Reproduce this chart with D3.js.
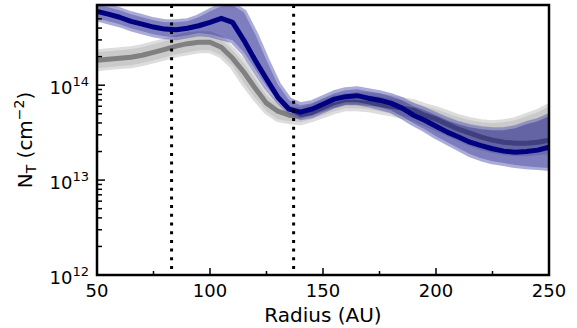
<!DOCTYPE html>
<html><head><meta charset="utf-8">
<script src="https://cdn.jsdelivr.net/npm/d3@7"></script>
<style>body{margin:0;background:#fff} svg{display:block}</style>
</head><body>
<svg id="c" width="577" height="328"></svg>
<script>
const radius = [50,55,60,65,70,75,80,85,90,95,100,105,110,115,120,125,130,135,140,145,150,155,160,165,170,175,180,185,190,195,200,205,210,215,220,225,230,235,240,245,250];

const blueMid = [6.0e14,5.6e14,5.2e14,4.7e14,4.4e14,4.1e14,3.9e14,3.84e14,3.98e14,4.23e14,4.6e14,5.07e14,4.6e14,2.97e14,1.83e14,1.16e14,7.48e13,5.59e13,5.2e13,5.59e13,6.31e13,7.13e13,7.57e13,7.76e13,7.3e13,6.95e13,6.47e13,5.73e13,4.83e13,4.28e13,3.7e13,3.2e13,2.84e13,2.51e13,2.31e13,2.14e13,2.02e13,1.97e13,2.0e13,2.07e13,2.22e13];
const blueHigh = [7.11e14,6.62e14,6.17e14,5.59e14,5.2e14,4.83e14,4.6e14,4.6e14,4.72e14,5.2e14,6.01e14,6.79e14,6.95e14,5.86e14,3.44e14,1.83e14,1.02e14,6.95e13,6.15e13,6.47e13,7.3e13,8.24e13,8.85e13,9.08e13,8.65e13,8.24e13,7.66e13,6.95e13,6.01e13,5.46e13,4.83e13,4.28e13,3.88e13,3.61e13,3.44e13,3.36e13,3.36e13,3.52e13,3.88e13,4.18e13,4.72e13];
const blueLow = [5.07e14,4.72e14,4.39e14,3.98e14,3.7e14,3.44e14,3.28e14,3.2e14,3.36e14,3.52e14,3.44e14,3.2e14,2.97e14,2.22e14,1.47e14,9.75e13,6.95e13,5.32e13,4.6e13,4.83e13,5.46e13,6.15e13,6.62e13,6.62e13,6.31e13,5.86e13,5.46e13,4.72e13,3.98e13,3.44e13,2.9e13,2.51e13,2.17e13,1.88e13,1.7e13,1.58e13,1.51e13,1.44e13,1.4e13,1.37e13,1.34e13];

const grayMid = [1.83e14,1.88e14,1.92e14,1.97e14,2.07e14,2.22e14,2.39e14,2.58e14,2.74e14,2.84e14,2.84e14,2.51e14,1.92e14,1.37e14,9.3e13,6.47e13,5.32e13,4.83e13,4.72e13,5.07e13,5.59e13,6.15e13,6.62e13,6.62e13,6.47e13,6.31e13,6.01e13,5.73e13,5.46e13,4.83e13,4.39e13,3.88e13,3.44e13,3.13e13,2.84e13,2.64e13,2.51e13,2.45e13,2.45e13,2.51e13,2.64e13];
const grayHigh = [2.22e14,2.28e14,2.33e14,2.39e14,2.51e14,2.7e14,2.9e14,3.13e14,3.36e14,3.44e14,3.44e14,3.05e14,2.33e14,1.71e14,1.16e14,7.85e13,6.31e13,5.59e13,5.46e13,5.86e13,6.62e13,7.3e13,7.66e13,7.85e13,7.85e13,7.66e13,7.3e13,6.95e13,6.62e13,6.01e13,5.59e13,5.07e13,4.6e13,4.28e13,4.07e13,3.98e13,4.07e13,4.28e13,4.72e13,5.2e13,6.01e13];
const grayLow = [1.51e14,1.55e14,1.59e14,1.62e14,1.71e14,1.83e14,1.97e14,2.12e14,2.22e14,2.33e14,2.33e14,2.07e14,1.59e14,1.05e14,7.3e13,5.32e13,4.39e13,4.18e13,4.07e13,4.39e13,4.83e13,5.32e13,5.73e13,5.73e13,5.59e13,5.32e13,5.07e13,4.72e13,4.49e13,3.98e13,3.52e13,3.13e13,2.77e13,2.45e13,2.22e13,2.07e13,1.97e13,1.92e13,1.92e13,1.97e13,2.02e13];

const markers = [83, 137];
const xMajor = [50,100,150,200,250];
const xMinor = [75,125,175,225];
const yMajor = [1e12,1e13,1e14];
const yMajorExp = ["12","13","14"];
const yMinor = [2e12,3e12,4e12,5e12,6e12,7e12,8e12,9e12,2e13,3e13,4e13,5e13,6e13,7e13,8e13,9e13,2e14,3e14,4e14,5e14,6e14,7e14];

const L = 97, R = 549, T = 5, B = 275;
const svg = d3.select("#c");
const x = d3.scaleLinear().domain([50,250]).range([L,R]);
const y = d3.scaleLog().domain([1e12,7e14]).range([B,T]);
const font = "DejaVu Sans, sans-serif";

svg.append("defs").append("clipPath").attr("id","clip")
  .append("rect").attr("x",L).attr("y",T).attr("width",R-L).attr("height",B-T);
const plot = svg.append("g").attr("clip-path","url(#clip)");

function band(low, high, fill, edge, op, ew){
  const g = plot.append("g").attr("opacity", op);
  const ln = arr => d3.line().x((d,i)=>x(radius[i])).y((d,i)=>y(arr[i]))(radius);
  [low, high].forEach(arr => g.append("path").attr("d", ln(arr))
      .attr("fill","none").attr("stroke",edge).attr("stroke-width",ew).attr("stroke-linejoin","round"));
  const ar = d3.area().x((d,i)=>x(radius[i])).y0((d,i)=>y(low[i])).y1((d,i)=>y(high[i]));
  g.append("path").attr("d", ar(radius)).attr("fill", fill);
}
function line(mid, color){
  plot.append("path").attr("d", d3.line().x((d,i)=>x(radius[i])).y((d,i)=>y(mid[i]))(radius))
    .attr("fill","none").attr("stroke",color).attr("stroke-width",5).attr("stroke-linejoin","round");
}

band(grayLow, grayHigh, "#8c8c8c", "#b4b4b4", 0.45, 6);
line(grayMid, "#808080");
band(blueLow, blueHigh, "#000080", "#5a5ab4", 0.5, 6);
line(blueMid, "#000080");

markers.forEach(m => plot.append("line").attr("x1",x(m)).attr("x2",x(m)).attr("y1",T).attr("y2",B)
  .attr("stroke","#000").attr("stroke-width",3).attr("stroke-dasharray","3,5.7"));

// ticks (inward)
const ax = svg.append("g").attr("stroke","#000").attr("stroke-width",1.5);
xMajor.forEach(v => ax.append("line").attr("x1",x(v)).attr("x2",x(v)).attr("y1",B).attr("y2",B-7));
xMinor.forEach(v => ax.append("line").attr("x1",x(v)).attr("x2",x(v)).attr("y1",B).attr("y2",B-4));
yMajor.forEach(v => ax.append("line").attr("x1",L).attr("x2",L+8).attr("y1",y(v)).attr("y2",y(v)));
yMinor.forEach(v => ax.append("line").attr("x1",L).attr("x2",L+5).attr("y1",y(v)).attr("y2",y(v)));

// frame
svg.append("rect").attr("x",L).attr("y",T).attr("width",R-L).attr("height",B-T)
  .attr("fill","none").attr("stroke","#000").attr("stroke-width",2.5);

// tick labels
xMajor.forEach(v => svg.append("text").attr("x",x(v)).attr("y",B+22).attr("text-anchor","middle")
  .attr("font-family",font).attr("font-size",18).text(v));
yMajor.forEach((v,i) => {
  const t = svg.append("text").attr("x",L-8).attr("y",y(v)+9).attr("text-anchor","end")
    .attr("font-family",font).attr("font-size",18);
  t.append("tspan").text("10");
  t.append("tspan").attr("font-size",13).attr("dy",-8).text(yMajorExp[i]);
});

// axis labels
svg.append("text").attr("x",(L+R)/2).attr("y",322).attr("text-anchor","middle")
  .attr("font-family",font).attr("font-size",20).text("Radius (AU)");
const yl = svg.append("text").attr("transform",`translate(32,${(T+B)/2}) rotate(-90)`)
  .attr("text-anchor","middle").attr("font-family",font).attr("font-size",20);
yl.append("tspan").text("N");
yl.append("tspan").attr("font-size",14).attr("dy",4).text("T");
yl.append("tspan").attr("dy",-4).text(" (cm");
yl.append("tspan").attr("font-size",14).attr("dy",-8).text("\u22122");
yl.append("tspan").attr("dy",8).text(")");
</script>
</body></html>
